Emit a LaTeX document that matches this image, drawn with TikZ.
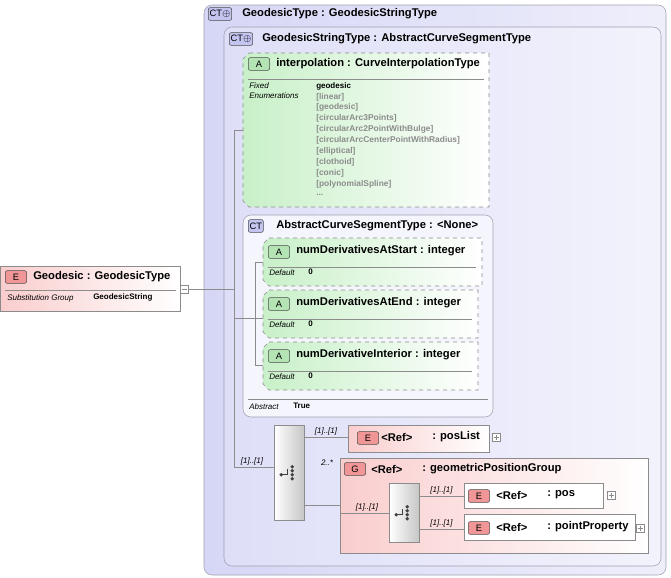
\documentclass[tikz,border=0pt]{standalone}
\usepackage{fontspec}
\setmainfont{Liberation Sans}
\usetikzlibrary{positioning,calc}
\definecolor{ctfill}{RGB}{214,214,246}
\definecolor{ctline}{RGB}{160,160,175}
\definecolor{ctbadge}{RGB}{196,196,240}
\definecolor{afill}{RGB}{200,240,200}
\definecolor{abadge}{RGB}{180,228,180}
\definecolor{efill}{RGB}{250,205,205}
\definecolor{ebadge}{RGB}{240,150,150}
\definecolor{grey}{RGB}{140,140,140}
\begin{document}
\begin{tikzpicture}[x=0.75pt,y=-0.75pt,
    box/.style={draw=ctline,rounded corners=6pt},
    elem/.style={draw=grey,left color=efill,right color=white,anchor=north west,inner sep=0pt},
    seq/.style={draw=grey,left color=white,right color=gray!45,anchor=north west,inner sep=0pt,minimum width=22.5pt},
    badge/.style={draw=black!70,rounded corners=1.5pt,inner sep=1pt,minimum height=9.5pt,font=\fontsize{7}{7}\selectfont,anchor=west},
    ttl/.style={anchor=west,inner sep=0pt,font=\fontsize{8.4}{9}\selectfont\bfseries},
    lbl/.style={anchor=west,inner sep=0pt,font=\fontsize{6}{6}\selectfont\itshape},
    val/.style={anchor=west,inner sep=0pt,font=\fontsize{6}{6}\selectfont\bfseries},
    enum/.style={anchor=west,inner sep=0pt,font=\fontsize{6.3}{6}\selectfont\bfseries,text=grey},
    card/.style={anchor=south,inner sep=1pt,font=\fontsize{6}{6}\selectfont\itshape},
    attr/.style={draw=grey,dashed,left color=afill,right color=white},
    conn/.style={draw=grey,line width=0.5pt},
    pm/.style={draw=grey,fill=white,minimum size=6pt,inner sep=0pt}]
  \useasboundingbox (0,0) rectangle (671,578);

  % complex types
  \path[box,left color=ctfill,right color=ctfill!40,draw=ctline] (204,5) rectangle (666,575);
  \node[badge,fill=ctbadge] (ctOuter) at (208,14) {CT$\oplus$};
  \node[ttl] (ttlOuter) at (242,14) {GeodesicType : GeodesicStringType};
  \path[box,left color=ctfill!80,right color=ctfill!30] (224,27) rectangle (661,566);
  \node[badge,fill=ctbadge] (ctInner) at (229,39) {CT$\oplus$};
  \node[ttl] (ttlInner) at (262,39) {GeodesicStringType : AbstractCurveSegmentType};

  % interpolation attribute
  \path[attr] (249,53) -- (489,53) -- (489,207) -- (249,207) -- (243,201) -- (243,59) -- cycle;
  \coordinate (interp) at (243,130);
  \node[badge,fill=abadge,minimum width=16pt] (aInterp) at (248,64) {A};
  \node[ttl] at (276,64) {interpolation : CurveInterpolationType};
  \draw[grey] (248,79) -- (484,79);
  \node[lbl] at (249,86) {Fixed};
  \node[lbl] at (249,96) {Enumerations};
  \node[val] at (316,86) {geodesic};
  \foreach \t [count=\i] in {[linear],[geodesic],[circularArc3Points],[circularArc2PointWithBulge],
      [circularArcCenterPointWithRadius],[elliptical],[clothoid],[conic],[polynomialSpline]}
    \node[enum] at (316,86+\i*10.9) {\t};
  \node[enum] at (316,195) {...};

  % abstract curve segment type
  \path[box,fill=ctfill!25] (243,215) rectangle (493,417);
  \node[badge,fill=ctbadge] (ctAbs) at (248,226) {CT};
  \node[ttl] at (276,226) {AbstractCurveSegmentType : <None>};
  \foreach \n/\y/\w in {numDerivativesAtStart : integer/238/482,
                        numDerivativesAtEnd : integer/290/478,
                        numDerivativeInterior : integer/342/478} {
    \path[attr] (269,\y) -- (\w,\y) -- (\w,\y+48) -- (269,\y+48) -- (263,\y+42) -- (263,\y+6) -- cycle;
    \node[badge,fill=abadge,minimum width=16pt] at (268,\y+14) {A};
    \node[ttl] at (296,\y+13) {\n};
    \draw[grey] (268,\y+29) -- (\w-6,\y+29);
    \node[lbl] at (269,\y+35) {Default};
    \node[val] at (308,\y+34) {0};
  }
  \draw[grey] (248,399) -- (488,399);
  \node[lbl] at (249,407) {Abstract};
  \node[val] at (293,406) {True};

  % root element
  \node[elem,minimum width=135pt,minimum height=33.75pt] (geodesic) at (0,266) {};
  \node[badge,fill=ebadge,minimum width=16pt] at (5,277) {E};
  \node[ttl] at (33,277) {Geodesic : GeodesicType};
  \draw[grey] (5,290) -- (176,290);
  \node[lbl] at (7,298) {Substitution Group};
  \node[val] at (93,297) {GeodesicString};
  \node[pm] (minus) at (184,289) {};
  \draw[grey] (181.5,289) -- (186.5,289);

  % sequences and referenced elements
  \node[seq,minimum height=71.25pt] (seqA) at (274,425) {};
  \node[elem,minimum width=105.75pt,minimum height=20.25pt] (posList) at (348,425) {};
  \node[badge,fill=ebadge,minimum width=16pt] at (357,438) {E};
  \node[ttl] at (381,437) {<Ref>};
  \node[ttl] at (432,437) {: posList};
  \node[pm] (plusA) at (496,437) {};

  \path[draw=grey,left color=efill,right color=white] (340,458) rectangle (648,553);
  \coordinate (group) at (340,505);
  \node[badge,fill=ebadge,minimum width=16pt] at (344,469) {G};
  \node[ttl] at (371,469) {<Ref>};
  \node[ttl] at (422,469) {: geometricPositionGroup};
  \node[card] at (327,467) {2..*};

  \node[seq,minimum height=44.25pt] (seqB) at (389,483) {};
  \node[elem,left color=white,minimum width=104.25pt,minimum height=18.75pt] (pos) at (464,483) {};
  \node[badge,fill=ebadge,minimum width=16pt] at (468,496) {E};
  \node[ttl] at (496,495) {<Ref>};
  \node[ttl] at (547,495) {: pos};
  \node[pm] (plusB) at (611,495) {};
  \node[elem,left color=white,minimum width=128.25pt,minimum height=19.5pt] (pointProp) at (464,514) {};
  \node[badge,fill=ebadge,minimum width=16pt] at (468,528) {E};
  \node[ttl] at (496,527) {<Ref>};
  \node[ttl] at (547,527) {: pointProperty};
  \node[pm] (plusC) at (640,528) {};
  \foreach \p in {plusA,plusB,plusC}
    \draw[grey] ($(\p.center)+(-2.5,0)$) -- ($(\p.center)+(2.5,0)$) ($(\p.center)+(0,-2.5)$) -- ($(\p.center)+(0,2.5)$);

  % sequence icons
  \foreach \s in {seqA,seqB} {
    \draw[black!75,line width=0.7pt] ($(\s.center)+(-8,2)$) -- ($(\s.center)+(-2,2)$) -- ($(\s.center)+(-2,-4)$);
    \fill[black!75] ($(\s.center)+(-8,2)$) circle (1.8);
    \foreach \d in {-6,-2,2,6}
      \fill[black!75] ($(\s.center)+(3,\d)$) circle (1.8);
  }

  % connectors
  \coordinate (trunkTop) at (234,130);
  \coordinate (trunk) at (234,289);
  \coordinate (trunkAbs) at (234,318);
  \coordinate (trunkSeq) at (234,467);
  \coordinate (absTop) at (255,262);
  \coordinate (absJ) at (255,318);
  \coordinate (absBot) at (255,365);
  \coordinate (seqAin) at (274,467);
  \coordinate (seqAup) at (304,437);
  \coordinate (posListIn) at (348,437);
  \coordinate (seqAdn) at (304,505);
  \coordinate (groupIn) at (340,513);
  \coordinate (seqBin) at (389,513);
  \coordinate (seqBup) at (419,496);
  \coordinate (posIn) at (464,496);
  \coordinate (seqBdn) at (419,529);
  \coordinate (pointIn) at (464,529);
  \draw[conn] (minus) -- (trunk);
  \draw[conn] (trunkTop) -- (trunkSeq);
  \draw[conn] (trunkTop) -- (interp);
  \draw[conn] (trunkAbs) -- (absJ);
  \draw[conn] (absTop) -- (absBot);
  \foreach \y in {262,318,365} \draw[conn] (255,\y) -- (263,\y);
  \draw[conn] (trunkSeq) -- (seqAin) node[card,pos=0.45] {[1]..[1]};
  \draw[conn] (seqAup) -- (posListIn) node[card,midway] {[1]..[1]};
  \draw[conn] (seqAdn) -- (group);
  \draw[conn] (groupIn) -- (seqBin) node[card,pos=0.55] {[1]..[1]};
  \draw[conn] (seqBup) -- (posIn) node[card,midway] {[1]..[1]};
  \draw[conn] (seqBdn) -- (pointIn) node[card,midway] {[1]..[1]};
\end{tikzpicture}
\end{document}
